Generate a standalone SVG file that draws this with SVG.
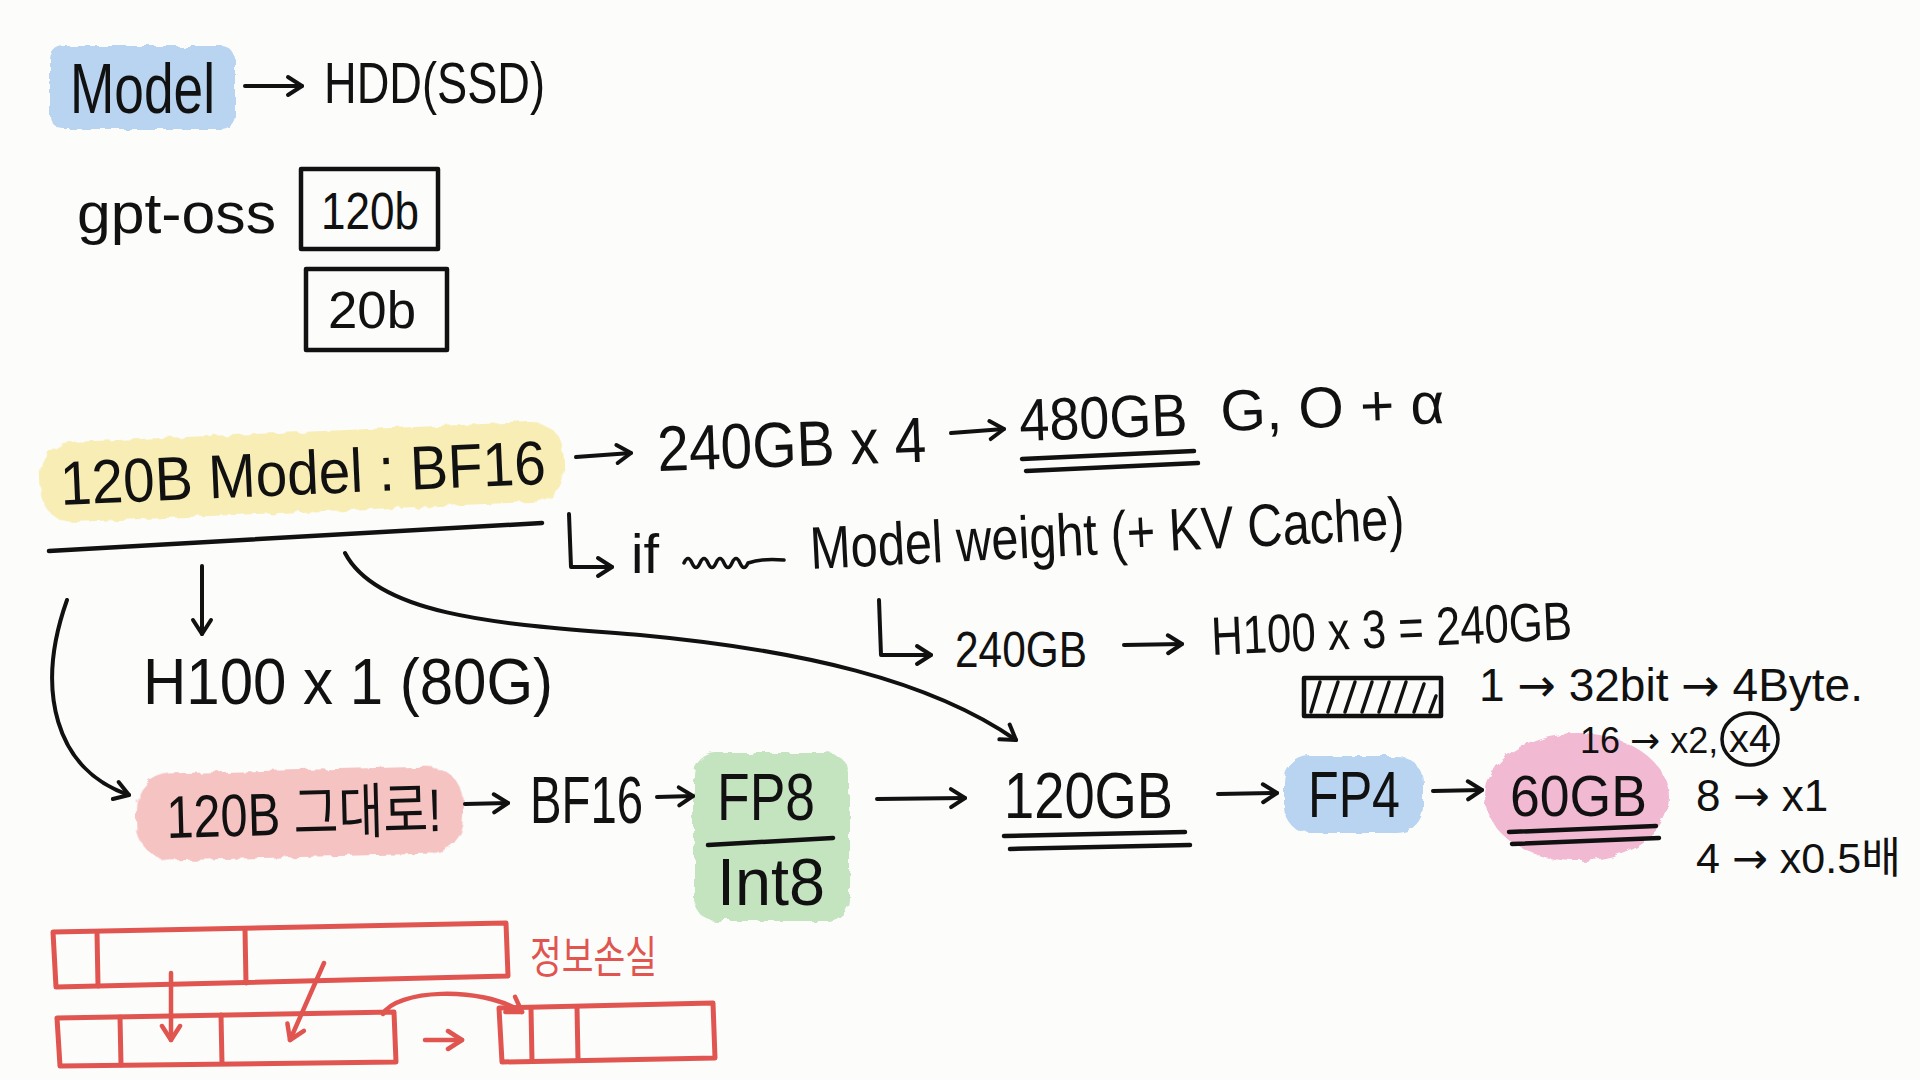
<svg xmlns="http://www.w3.org/2000/svg" width="1920" height="1080" viewBox="0 0 1920 1080">
<defs>
<style>
.t{font-family:"Liberation Sans","Noto Sans CJK KR",sans-serif;fill:#111;}
.k{font-family:"Liberation Sans","Noto Sans CJK KR",sans-serif;}
.ar{font-family:"DejaVu Sans",sans-serif;}
.box{fill:none;stroke:#111;stroke-width:4.5;stroke-linejoin:round;}
.ln{fill:none;stroke:#111;stroke-width:4.5;stroke-linecap:round;stroke-linejoin:round;}
.c{fill:none;stroke:#111;stroke-width:4;stroke-linecap:round;stroke-linejoin:round;marker-end:url(#ah);}
.rc{fill:none;stroke:#e05550;stroke-width:4.5;stroke-linecap:round;stroke-linejoin:round;marker-end:url(#rh);}
.red{fill:none;stroke:#e05550;stroke-width:5;stroke-linejoin:round;stroke-linecap:round;}
.hl{filter:url(#rough);}
</style>
<filter id="rough" x="-5%" y="-10%" width="110%" height="120%">
<feTurbulence type="fractalNoise" baseFrequency="0.09" numOctaves="2" seed="3"/>
<feDisplacementMap in="SourceGraphic" scale="7"/>
</filter>
<marker id="ah" markerUnits="userSpaceOnUse" markerWidth="24" markerHeight="24" viewBox="0 0 24 24" refX="20" refY="12" orient="auto">
<path d="M6,3 L20,12 L6,21" fill="none" stroke="#111" stroke-width="4" stroke-linecap="round" stroke-linejoin="round"/>
</marker>
<marker id="rh" markerUnits="userSpaceOnUse" markerWidth="24" markerHeight="24" viewBox="0 0 24 24" refX="20" refY="12" orient="auto">
<path d="M6,3 L20,12 L6,21" fill="none" stroke="#e05550" stroke-width="4.5" stroke-linecap="round" stroke-linejoin="round"/>
</marker>
</defs>
<rect width="1920" height="1080" fill="#fcfcfb"/>

<g id="node-model">
<rect class="hl" x="50" y="46" width="185" height="83" rx="14" fill="#b9d4f1"/>
<text class="t" x="70" y="113" font-size="70" textLength="145" lengthAdjust="spacingAndGlyphs">Model</text>
</g>
<g id="node-hdd">
<text class="t" x="324" y="103" font-size="58" textLength="221" lengthAdjust="spacingAndGlyphs">HDD(SSD)</text>
</g>
<g id="node-gptoss">
<text class="t" x="77" y="233" font-size="58" textLength="199" lengthAdjust="spacingAndGlyphs">gpt-oss</text>
</g>
<g id="node-120b">
<rect class="box" x="301" y="169" width="137" height="80"/>
<text class="t" x="321" y="229" font-size="52" textLength="98" lengthAdjust="spacingAndGlyphs">120b</text>
</g>
<g id="node-20b">
<rect class="box" x="306" y="269" width="141" height="81"/>
<text class="t" x="328" y="328" font-size="52" textLength="88" lengthAdjust="spacingAndGlyphs">20b</text>
</g>

<g id="node-120b-bf16">
<rect class="hl" x="40" y="432" width="524" height="80" rx="32" fill="#f8edb4" transform="rotate(-2.5 301 471)"/>
<text class="t" x="61" y="505" font-size="62" textLength="486" lengthAdjust="spacingAndGlyphs" transform="rotate(-2.5 61 505)">120B Model : BF16</text>
<path class="ln" d="M49,551 Q300,536 542,523" stroke-width="5"/>
</g>
<g id="node-240x4">
<text class="t" x="658" y="471" font-size="64" textLength="269" lengthAdjust="spacingAndGlyphs" transform="rotate(-2 658 471)">240GB x 4</text>
</g>
<g id="node-480">
<text class="t" x="1020" y="441" font-size="60" textLength="168" lengthAdjust="spacingAndGlyphs" transform="rotate(-2 1020 441)">480GB</text>
<path class="ln" d="M1022,459 L1194,451"/>
<path class="ln" d="M1026,471 L1198,463"/>
</g>
<g id="node-go">
<text class="t" x="1221" y="431" font-size="58" textLength="224" lengthAdjust="spacingAndGlyphs" transform="rotate(-2 1221 431)">G, O + α</text>
</g>
<g id="node-if">
<text class="t" x="631" y="573" font-size="56">if</text>
<path d="M684,563 q4,-9 8,0 t8,0 t8,0 t8,0 t8,0 t8,0 t8,0 t8,0 q14,-5 36,-3" fill="none" stroke="#111" stroke-width="3.5" stroke-linecap="round" stroke-linejoin="round"/>
<text class="t" x="811" y="569" font-size="60" textLength="595" lengthAdjust="spacingAndGlyphs" transform="rotate(-2.9 811 569)">Model weight (+ KV Cache)</text>
</g>
<g id="node-240">
<text class="t" x="955" y="667" font-size="50" textLength="132" lengthAdjust="spacingAndGlyphs">240GB</text>
</g>
<g id="node-h100x3">
<text class="t" x="1212" y="655" font-size="54" textLength="361" lengthAdjust="spacingAndGlyphs" transform="rotate(-2.5 1212 655)">H100 x 3 = 240GB</text>
</g>
<g id="node-h100x1">
<text class="t" x="143" y="704" font-size="64" textLength="410" lengthAdjust="spacingAndGlyphs">H100 x 1 (80G)</text>
</g>

<g id="node-120b-raw">
<rect class="hl" x="136" y="770" width="328" height="87" rx="36" fill="#f5c3c2" transform="rotate(-1.5 300 813)"/>
<text class="t" x="167" y="838" font-size="60" textLength="275" lengthAdjust="spacingAndGlyphs" transform="rotate(-1.5 167 838)">120B 그대로!</text>
</g>
<g id="node-bf16">
<text class="t" x="530" y="823" font-size="66" textLength="113" lengthAdjust="spacingAndGlyphs">BF16</text>
</g>
<g id="node-fp8">
<rect class="hl" x="694" y="753" width="155" height="168" rx="22" fill="#c4e3bf"/>
<text class="t" x="717" y="820" font-size="66" textLength="98" lengthAdjust="spacingAndGlyphs">FP8</text>
<path class="ln" d="M708,845 L833,838"/>
<text class="t" x="717" y="905" font-size="66" textLength="108" lengthAdjust="spacingAndGlyphs">Int8</text>
</g>
<g id="node-120gb">
<text class="t" x="1004" y="818" font-size="64" textLength="169" lengthAdjust="spacingAndGlyphs">120GB</text>
<path class="ln" d="M1004,836 L1185,832"/>
<path class="ln" d="M1010,849 L1190,845"/>
</g>
<g id="node-fp4">
<rect class="hl" x="1284" y="756" width="139" height="77" rx="26" fill="#b9d4f1"/>
<text class="t" x="1308" y="817" font-size="64" textLength="92" lengthAdjust="spacingAndGlyphs">FP4</text>
</g>
<g id="node-60gb">
<ellipse class="hl" cx="1577" cy="797" rx="92" ry="64" fill="#f2b9d3"/>
<text class="t" x="1510" y="816" font-size="58" textLength="137" lengthAdjust="spacingAndGlyphs">60GB</text>
<path class="ln" d="M1509,832 L1656,826"/>
<path class="ln" d="M1512,844 L1659,838"/>
</g>
<g id="node-hatch">
<rect class="box" x="1304" y="678" width="137" height="38"/>
<path d="M1311,712 L1320,682 M1328,712 L1338,682 M1345,712 L1355,682 M1362,712 L1372,682 M1379,712 L1389,682 M1396,712 L1406,682 M1414,712 L1424,684 M1430,712 L1436,696" fill="none" stroke="#111" stroke-width="3.5" stroke-linecap="round"/>
</g>
<g id="node-bits">
<text class="t" x="1479" y="701" font-size="46">1 <tspan class="ar">→</tspan> 32bit <tspan class="ar">→</tspan> 4Byte.</text>
<text class="t" x="1580" y="753" font-size="36">16 <tspan class="ar">→</tspan> x2,</text>
<text class="t" x="1729" y="752" font-size="38" textLength="42" lengthAdjust="spacingAndGlyphs">x4</text>
<ellipse cx="1750" cy="739" rx="28" ry="26" fill="none" stroke="#111" stroke-width="3.5"/>
</g>
<g id="node-ratios">
<text class="t" x="1696" y="811" font-size="44">8 <tspan class="ar">→</tspan> x1</text>
<text class="t" x="1696" y="873" font-size="43">4 <tspan class="ar">→</tspan> x0.5배</text>
</g>

<g id="node-bits-diagram">
<path class="red" d="M53,932 L506,923 L508,976 L56,987 Z"/>
<path class="red" d="M97,932 L98,986 M245,929 L246,983"/>
<path class="red" d="M57,1018 L394,1012 L396,1062 L60,1066 Z"/>
<path class="red" d="M120,1017 L121,1065 M221,1015 L222,1063"/>
<path class="red" d="M499,1008 L713,1003 L715,1058 L502,1062 Z"/>
<path class="red" d="M531,1008 L532,1061 M577,1007 L578,1060"/>
<text class="k" x="530" y="973" font-size="44" fill="#e05550" textLength="127" lengthAdjust="spacingAndGlyphs">정보손실</text>
</g>

<g id="connectors">
<path class="c" d="M245,86 L302,86"/>
<path class="c" d="M576,457 L631,453"/>
<path class="c" d="M951,433 L1004,429"/>
<path class="c" d="M569,514 L571,567 L612,567"/>
<path class="c" d="M879,600 L881,655 L931,655"/>
<path class="c" d="M1124,645 L1182,644"/>
<path class="c" d="M202,566 L202,634"/>
<path class="c" d="M67,600 C35,690 55,770 129,795"/>
<path class="c" d="M345,553 C380,620 520,625 640,635 C800,650 930,680 1016,740"/>
<path class="c" d="M465,804 L508,803"/>
<path class="c" d="M657,797 L693,796"/>
<path class="c" d="M877,799 L965,798"/>
<path class="c" d="M1218,794 L1277,793"/>
<path class="c" d="M1433,791 L1482,790"/>
<path class="rc" d="M171,973 L171,1040"/>
<path class="rc" d="M324,963 L290,1040"/>
<path class="rc" d="M383,1014 C395,990 480,985 522,1012"/>
<path class="rc" d="M425,1040 L462,1040"/>
</g>
</svg>
